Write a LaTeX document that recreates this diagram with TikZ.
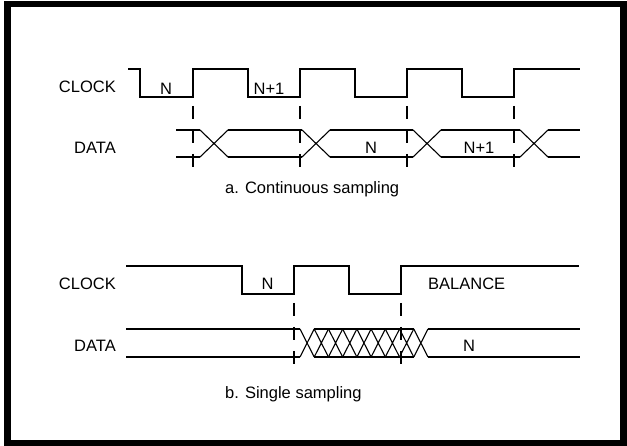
\documentclass[tikz,border=0pt]{standalone}
\usepackage{fontspec}
\setmainfont{Liberation Sans}
\usetikzlibrary{arrows.meta, positioning}

\begin{document}
\begin{tikzpicture}[x=1pt,y=-1pt,
    every node/.style={font=\fontsize{16.5}{20}\selectfont,inner sep=0pt},
    wave/.style={line width=1.8pt,line join=miter},
    cross/.style={line width=1.1pt},
    samp/.style={line width=1.8pt,dash pattern=on 13pt off 11pt}]

    \useasboundingbox (0,0) rectangle (627,446);
    \draw[line width=6.5pt] (7.5,4) rectangle (623.5,443);

    % a. continuous sampling
    \node[anchor=base east] (clkA)  at (116,92.7) {CLOCK};
    \node[anchor=base east] (dataA) at (116,153.3) {DATA};
    \draw[wave] (128,69) -- (140,69) -- (140,97) -- (193,97) -- (193,69)
        -- (248,69) -- (248,97) -- (300,97) -- (300,69) -- (355,69)
        -- (355,97) -- (407,97) -- (407,69) -- (462,69) -- (462,97)
        -- (514,97) -- (514,69) -- (580,69);
    \foreach \a/\b in {176/200, 228/302, 330/413, 441/520, 548/580}
        \draw[wave] (\a,130) -- (\b,130) (\a,157) -- (\b,157);
    \foreach \s in {200,302,413,520}
        \draw[cross] (\s,130) -- (\s+28,157) (\s,157) -- (\s+28,130);
    \foreach \x in {193,300,407,514}
        \draw[samp] (\x,106) -- (\x,168);
    \node[anchor=base] (nA)    at (166,95) {N};
    \node[anchor=base] (n1A)   at (269,95) {N+1};
    \node[anchor=base] (dnA)   at (371,154) {N};
    \node[anchor=base] (dn1A)  at (479,154) {N+1};
    \node[anchor=base west] (capA) at (225,194) {a. Continuous sampling};

    % b. single sampling
    \node[anchor=base east] (clkB)  at (116,289.3) {CLOCK};
    \node[anchor=base east] (dataB) at (116,351.7) {DATA};
    \draw[wave] (126,266) -- (242,266) -- (242,294) -- (294,294) -- (294,266)
        -- (349,266) -- (349,294) -- (401,294) -- (401,266) -- (579,266);
    \draw[wave] (126,329) -- (300,329) (126,357) -- (300,357);
    \draw[wave] (314.2,329) -- (413.8,329) (314.2,357) -- (413.8,357);
    \draw[wave] (428,329) -- (580,329) (428,357) -- (580,357);
    \foreach \k in {0,...,8}
        \draw[cross] (300+\k*14.22,329) -- (314.22+\k*14.22,357)
                     (300+\k*14.22,357) -- (314.22+\k*14.22,329);
    \foreach \x in {294,401}
        \draw[samp] (\x,303) -- (\x,367);
    \node[anchor=base] (nB)    at (267.5,289.3) {N};
    \node[anchor=base west] (balB) at (428,289.3) {BALANCE};
    \node[anchor=base] (dnB)   at (469,351.7) {N};
    \node[anchor=base west] (capB) at (225,399) {b. Single sampling};

\end{tikzpicture}
\end{document}
